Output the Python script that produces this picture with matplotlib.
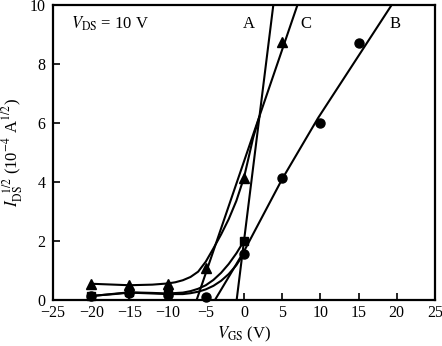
import matplotlib
matplotlib.use("Agg")
import matplotlib.pyplot as plt

plt.rcParams['font.family'] = ['Liberation Serif', 'DejaVu Serif']
plt.rcParams['mathtext.fontset'] = 'stix'

# measured points, I_DS^1/2 in 1e-4 A^1/2
vgs_tri = [-20, -15, -10, -5, 0, 5]
ids_tri = [0.55, 0.5, 0.55, 1.1, 4.15, 8.76]

vgs_sq = [-20, -15, -10, 0]
ids_sq = [0.12, 0.27, 0.25, 2.0]

vgs_dot = [-20, -15, -10, -5, 0, 5, 10, 15]
ids_dot = [0.15, 0.25, 0.17, 0.1, 1.56, 4.15, 6.0, 8.72]

# hand-drawn guide curves through the data
c_curve_x = [-20, -17, -15, -12, -10, -9, -8, -7, -6, -5, -4, -3, -2, -1, 0, 0.6, 1.2, 2.0]
c_curve_y = [0.55, 0.52, 0.5, 0.52, 0.56, 0.6, 0.67, 0.78, 0.96, 1.3, 1.75, 2.22, 2.74, 3.36, 4.15, 4.82, 5.5, 6.2]

sq_curve_x = [-20, -17, -15, -12, -10, -8, -7, -6, -5, -4, -3, -2, -1, 0]
sq_curve_y = [0.13, 0.21, 0.26, 0.24, 0.22, 0.25, 0.3, 0.38, 0.5, 0.68, 0.92, 1.22, 1.58, 2.0]

dot_curve_x = [-20, -17, -15, -12, -10, -8, -7, -6, -5, -4, -3, -2, -1, 0]
dot_curve_y = [0.14, 0.2, 0.25, 0.22, 0.2, 0.2, 0.23, 0.28, 0.36, 0.48, 0.65, 0.88, 1.18, 1.58]

# linear extrapolations to the threshold voltage
a_line_x = [-0.96, 3.84]
a_line_y = [0, 10]

c_line_x = [-6.2, 7.0]
c_line_y = [0, 10]

b_line_x = [-3.8, 0, 5, 9.7, 19.33]
b_line_y = [0, 1.65, 4.1, 6.17, 10]

fig = plt.figure(figsize=(4.42, 3.46), dpi=100)
ax = fig.add_axes([0.12, 0.133, 0.864, 0.8525])

lw = 1.5
for xs, ys in [(c_curve_x, c_curve_y), (sq_curve_x, sq_curve_y),
               (dot_curve_x, dot_curve_y), (a_line_x, a_line_y),
               (c_line_x, c_line_y), (b_line_x, b_line_y)]:
    ax.plot(xs, ys, color='black', lw=lw, solid_joinstyle='round')

ax.plot(vgs_dot, ids_dot, 'o', color='black', ms=6.5, clip_on=False)
ax.plot(vgs_sq, ids_sq, 's', color='black', ms=6, clip_on=False)
ax.plot(vgs_tri, ids_tri, '^', color='black', ms=6.5, clip_on=False)

ax.set_xlim(-25, 25)
ax.set_ylim(0, 10)
ax.set_xticks(range(-25, 26, 5))
ax.set_yticks(range(0, 11, 2))
ax.tick_params(direction='in', length=5, width=1.2, labelsize=11.5)
ax.tick_params(axis='x', pad=3.5)
ax.tick_params(axis='y', pad=5.5)
for s in ax.spines.values():
    s.set_linewidth(1.6)

ax.text(-22.6, 9.35, r'$V_{\rm DS}$ = 10 V', fontsize=12, va='center')
ax.text(0.6, 9.35, 'A', fontsize=12, ha='center', va='center')
ax.text(8.1, 9.35, 'C', fontsize=12, ha='center', va='center')
ax.text(19.8, 9.35, 'B', fontsize=12, ha='center', va='center')

ax.set_xlabel(r'$V_{\rm GS}$ (V)', fontsize=12, labelpad=3)
ax.set_ylabel(r'$I_{\rm DS}^{\ \ 1/2}$ (10$^{-4}$ A$^{1/2}$)', fontsize=12, labelpad=3)

fig.savefig('out.png', dpi=100)
